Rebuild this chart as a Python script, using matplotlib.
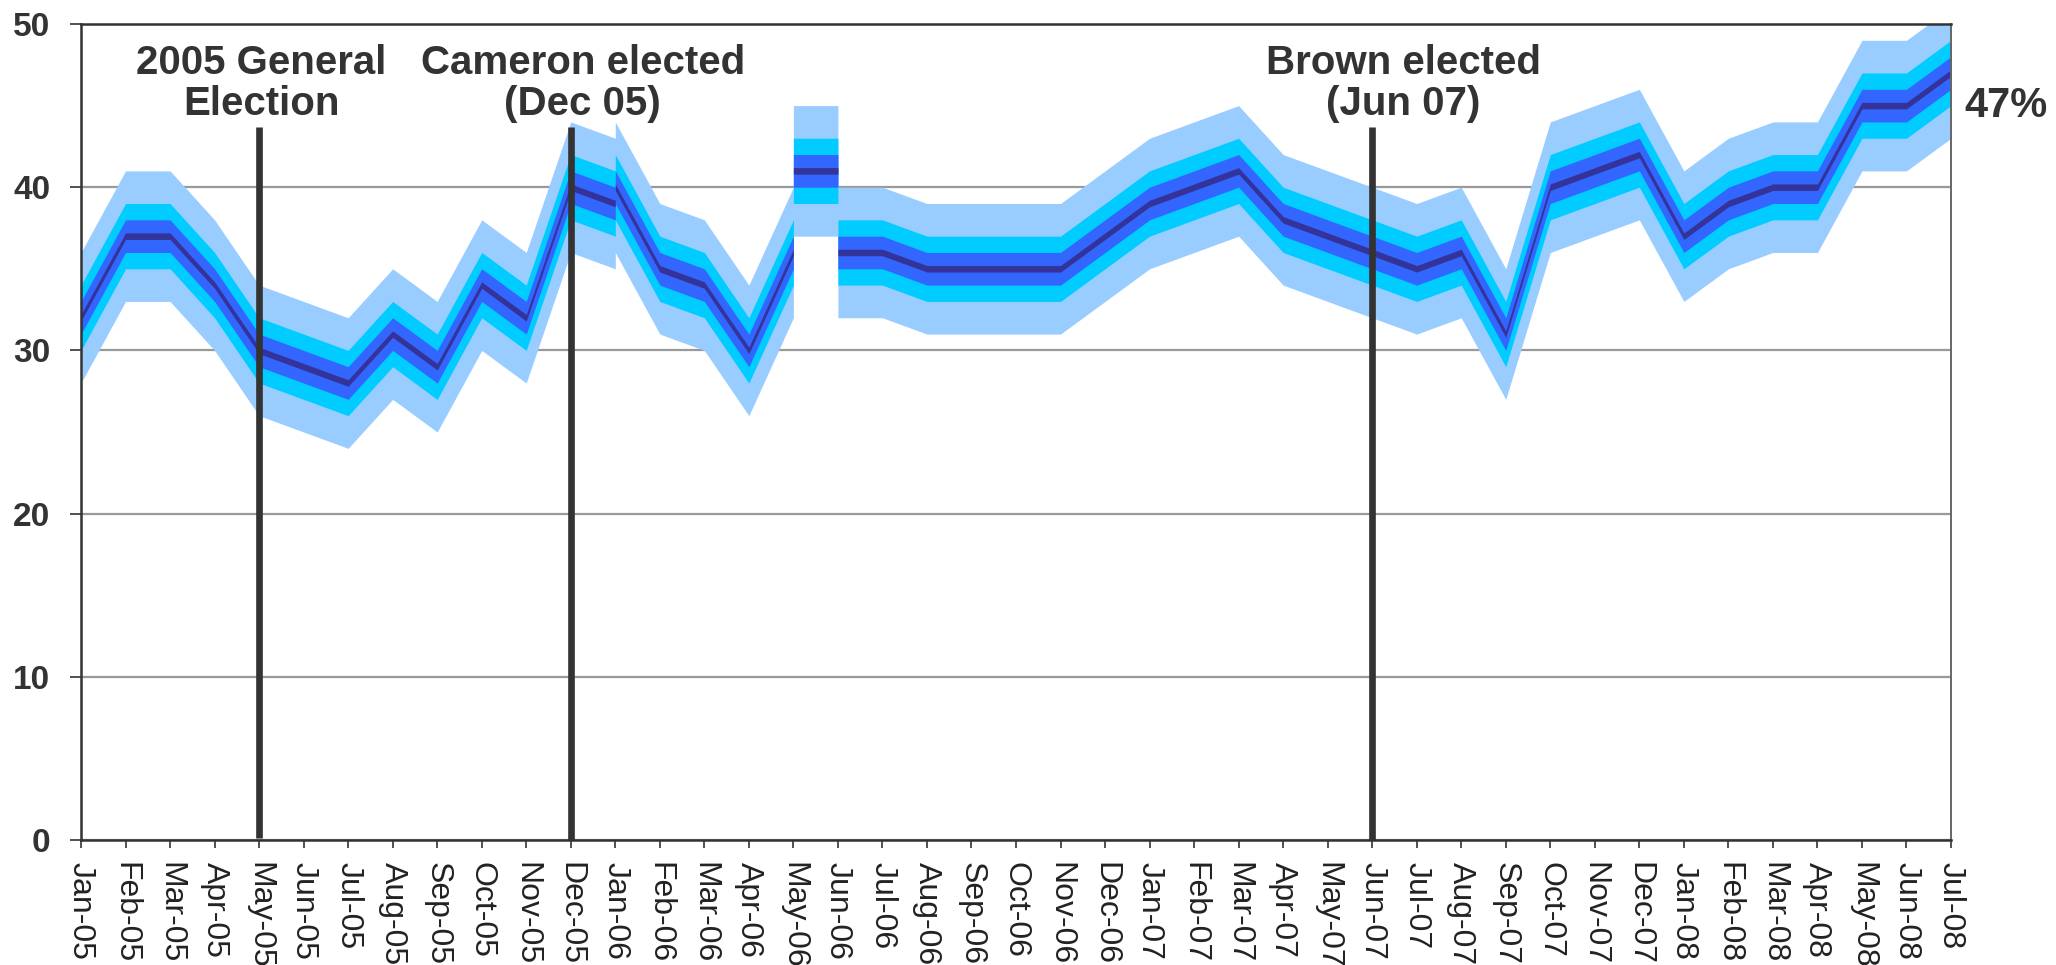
import matplotlib
matplotlib.use("Agg")
import matplotlib.pyplot as plt
import numpy as np

# ---- data ----
months = ["Jan-05", "Feb-05", "Mar-05", "Apr-05", "May-05", "Jun-05", "Jul-05", "Aug-05",
          "Sep-05", "Oct-05", "Nov-05", "Dec-05", "Jan-06", "Feb-06", "Mar-06", "Apr-06",
          "May-06", "Jun-06", "Jul-06", "Aug-06", "Sep-06", "Oct-06", "Nov-06", "Dec-06",
          "Jan-07", "Feb-07", "Mar-07", "Apr-07", "May-07", "Jun-07", "Jul-07", "Aug-07",
          "Sep-07", "Oct-07", "Nov-07", "Dec-07", "Jan-08", "Feb-08", "Mar-08", "Apr-08",
          "May-08", "Jun-08", "Jul-08"]

# poll month for each observation (some months hold two polls)
poll_months = ["Jan-05", "Feb-05", "Mar-05", "Apr-05", "May-05", "Jun-05", "Jul-05", "Aug-05",
               "Sep-05", "Oct-05", "Nov-05", "Dec-05", "Jan-06", "Jan-06", "Feb-06", "Mar-06",
               "Apr-06", "May-06", "May-06", "Jun-06", "Jun-06", "Jul-06", "Aug-06", "Sep-06",
               "Oct-06", "Nov-06", "Dec-06", "Jan-07", "Feb-07", "Mar-07", "Apr-07", "May-07",
               "Jun-07", "Jul-07", "Aug-07", "Sep-07", "Oct-07", "Nov-07", "Dec-07", "Jan-08",
               "Feb-08", "Mar-08", "Apr-08", "May-08", "Jun-08", "Jul-08"]
poll_values = [32, 37, 37, 34, 30, 29, 28, 31,
               29, 34, 32, 40, 39, 40, 35, 34,
               30, 36, 41, 41, 36, 36, 35, 35,
               35, 35, 37, 39, 40, 41, 38, 37,
               36, 35, 36, 31, 40, 41, 42, 37,
               39, 40, 40, 45, 45, 47]

# fan half-widths (percentage points) and colours, outermost first
band_halfwidths = [4, 2, 1, 0.2]
band_colors = ["#99CCFF", "#00CCFF", "#3366FF", "#333399"]

events = ["May-05", "Dec-05", "Jun-07"]
event_labels = ["2005 General\nElection", "Cameron elected\n(Dec 05)", "Brown elected\n(Jun 07)"]
event_label_x = [4.05, 11.27, 29.7]
latest_label = "47%"

yticks = [0, 10, 20, 30, 40, 50]

# ---- plot ----
plt.rcParams['font.family'] = ['Liberation Sans', 'DejaVu Sans']
TXT = "#333333"

fig = plt.figure(figsize=(20.56, 9.65), dpi=100)
ax = fig.add_axes([81 / 2056, 1 - 840 / 965, (1951 - 81) / 2056, (840 - 24) / 965])

idx = {m: i for i, m in enumerate(months)}
x = np.array([idx[m] for m in poll_months], dtype=float)
v = np.array(poll_values, dtype=float)

for hw, col in zip(band_halfwidths, band_colors):
    ax.fill_between(x, v - hw, v + hw, color=col, lw=0, zorder=2)

for ev in events:
    xe = idx[ev]
    ymin = 0.15 if ev == "May-05" else 0
    ax.plot([xe, xe], [ymin, 43.7], color=TXT, lw=4.8, solid_capstyle='butt', zorder=4)

for lab, lx in zip(event_labels, event_label_x):
    ax.text(lx, 46.35, lab, ha='center', va='center', fontsize=29, fontweight='bold',
            color=TXT, linespacing=1.08, zorder=5)

ax.text(42.3, 45.0, latest_label, ha='left', va='center', fontsize=30, fontweight='bold',
        color=TXT, clip_on=False)

ax.set_xlim(0, len(months) - 1)
ax.set_ylim(0, 50)
ax.set_xticks(range(len(months)))
ax.set_xticklabels(months, rotation=270, fontsize=23, color="#222222")
ax.set_yticks(yticks)
ax.set_yticklabels([str(t) for t in yticks], fontsize=24, fontweight='bold', color=TXT)

ax.tick_params(axis='x', direction='out', length=6, width=1.2, color=TXT, pad=10)
ax.tick_params(axis='y', direction='out', length=8, width=1.2, color=TXT, pad=14)

ax.set_axisbelow(True)
ax.yaxis.grid(True, color="#999999", lw=1.6)
ax.xaxis.grid(False)

for side in ['left', 'bottom', 'top']:
    ax.spines[side].set_color(TXT)
    ax.spines[side].set_linewidth(1.8)
ax.spines['right'].set_color("#666666")
ax.spines['right'].set_linewidth(1.4)

fig.savefig("out.png", dpi=100, facecolor="white")
